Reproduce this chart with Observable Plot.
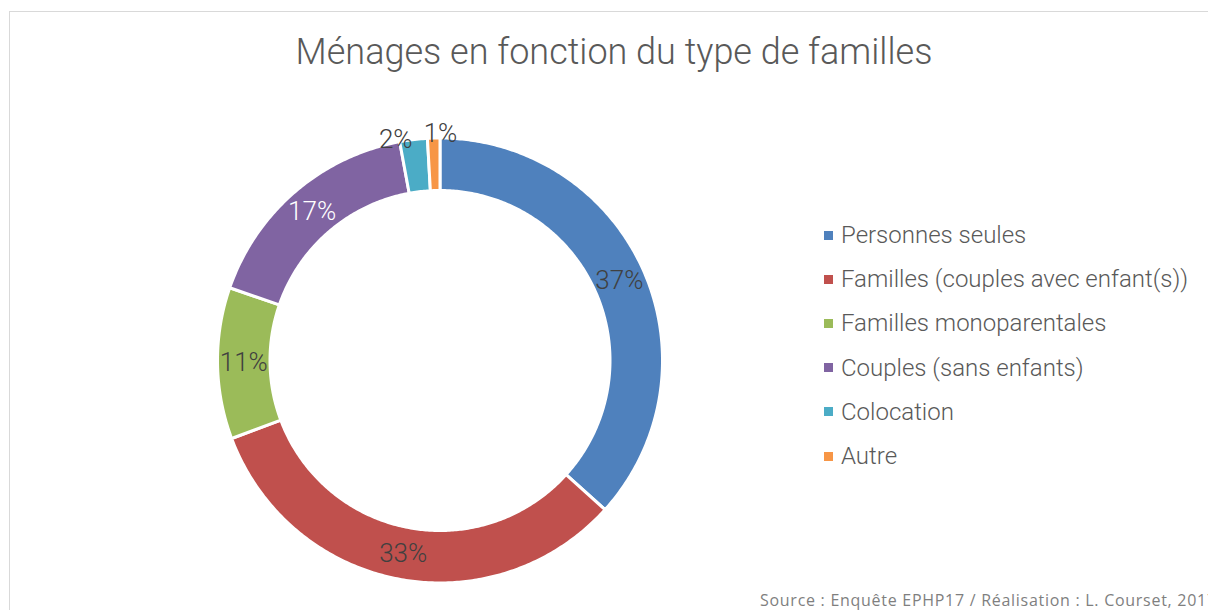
<!DOCTYPE html>
<html>
<head>
<meta charset="utf-8">
<script src="https://cdn.jsdelivr.net/npm/d3@7"></script>
<script src="https://cdn.jsdelivr.net/npm/@observablehq/plot@0.6"></script>
<style>
  html, body { margin: 0; padding: 0; background: #fff; overflow: hidden; }
  body { width: 1208px; height: 610px; position: relative; font-family: Roboto, "Noto Sans", sans-serif; }
  #frame { position: absolute; left: 9px; top: 11px; width: 1260px; height: 640px; border: 1px solid #d9d9d9; box-sizing: border-box; }
  #title { position: absolute; left: 0; width: 1228px; top: 31px; text-align: center; font-size: 36px; font-weight: 300; color: #595959; white-space: nowrap; }
  #chart { position: absolute; left: 0; top: 0; }
  #legend { position: absolute; left: 824px; top: 213px; font-size: 24px; font-weight: 300; color: #595959; }
  #legend .row { height: 44.2px; display: flex; align-items: center; white-space: nowrap; }
  #legend .sw { width: 9px; height: 9px; margin-right: 8px; }
  #source { position: absolute; left: 760px; top: 589px; font-family: "Open Sans", sans-serif; font-size: 16px; letter-spacing: 0.72px; color: #7f7f7f; white-space: nowrap; }
</style>
</head>
<body>
<div id="frame"></div>
<div id="chart"></div>
<div id="title">Ménages en fonction du type de familles</div>
<div id="legend"></div>
<div id="source">Source : Enquête EPHP17 / Réalisation : L. Courset, 2017</div>
<script>
// Data
const categories = ["Personnes seules", "Familles (couples avec enfant(s))", "Familles monoparentales", "Couples (sans enfants)", "Colocation", "Autre"];
const values = [36.7, 32.6, 11.0, 16.8, 2.0, 0.9];
const labels = ["37%", "33%", "11%", "17%", "2%", "1%"];
const colors = ["#4F81BD", "#C0504D", "#9BBB59", "#8064A2", "#4BACC6", "#F79646"];

// Geometry (unit circle in data space)
const inner = 170 / 222.5;
const total = d3.sum(values);
let acc = 0;
const slices = categories.map((c, i) => {
  const a0 = acc / total * 2 * Math.PI;
  acc += values[i];
  const a1 = acc / total * 2 * Math.PI;
  return {cat: c, a0, a1, mid: (a0 + a1) / 2, label: labels[i], value: values[i]};
});

const ring = [];
for (const s of slices) {
  const n = Math.max(4, Math.ceil((s.a1 - s.a0) / 0.01));
  for (let k = 0; k <= n; k++) {
    const a = s.a0 + (s.a1 - s.a0) * k / n;
    ring.push({cat: s.cat, x: Math.sin(a), y: Math.cos(a)});
  }
  for (let k = n; k >= 0; k--) {
    const a = s.a0 + (s.a1 - s.a0) * k / n;
    ring.push({cat: s.cat, x: inner * Math.sin(a), y: inner * Math.cos(a)});
  }
}

const rMid = (1 + inner) / 2;
const inside = slices.filter(s => s.value >= 5).map(s => ({
  ...s, x: rMid * Math.sin(s.mid), y: rMid * Math.cos(s.mid),
  color: s.cat === "Couples (sans enfants)" ? "#ffffff" : "#404040"
}));
const outerTeal = slices.filter(s => s.cat === "Colocation").map(s => ({...s, x: 1.03 * Math.sin(s.mid), y: 1.03 * Math.cos(s.mid)}));
const outerOrange = slices.filter(s => s.cat === "Autre").map(s => ({...s, x: 1.03 * Math.sin(s.mid), y: 1.03 * Math.cos(s.mid)}));

const plot = Plot.plot({
  width: 1208,
  height: 610,
  margin: 0,
  x: {domain: [-1, 1], range: [217, 662], axis: null},
  y: {domain: [-1, 1], range: [582.5, 137.5], axis: null},
  color: {domain: categories, range: colors},
  style: {background: "transparent", fontFamily: "Roboto, 'Noto Sans', sans-serif"},
  marks: [
    Plot.line(ring, {x: "x", y: "y", z: "cat", fill: "cat", stroke: "white", strokeWidth: 3, curve: "linear-closed"}),
    Plot.text(inside, {x: "x", y: "y", text: "label", fill: "color", fontSize: 26, fontWeight: 300}),
    Plot.text(outerTeal, {x: "x", y: "y", text: "label", fill: "#404040", fontSize: 26, fontWeight: 300, lineAnchor: "bottom", dx: -17, dy: 15}),
    Plot.text(outerOrange, {x: "x", y: "y", text: "label", fill: "#404040", fontSize: 26, fontWeight: 300, lineAnchor: "bottom", dx: 7, dy: 11})
  ]
});
document.getElementById("chart").appendChild(plot);

const legend = document.getElementById("legend");
categories.forEach((c, i) => {
  const row = document.createElement("div");
  row.className = "row";
  const sw = document.createElement("span");
  sw.className = "sw";
  sw.style.background = colors[i];
  const t = document.createElement("span");
  t.textContent = c;
  row.appendChild(sw);
  row.appendChild(t);
  legend.appendChild(row);
});
</script>
</body>
</html>
